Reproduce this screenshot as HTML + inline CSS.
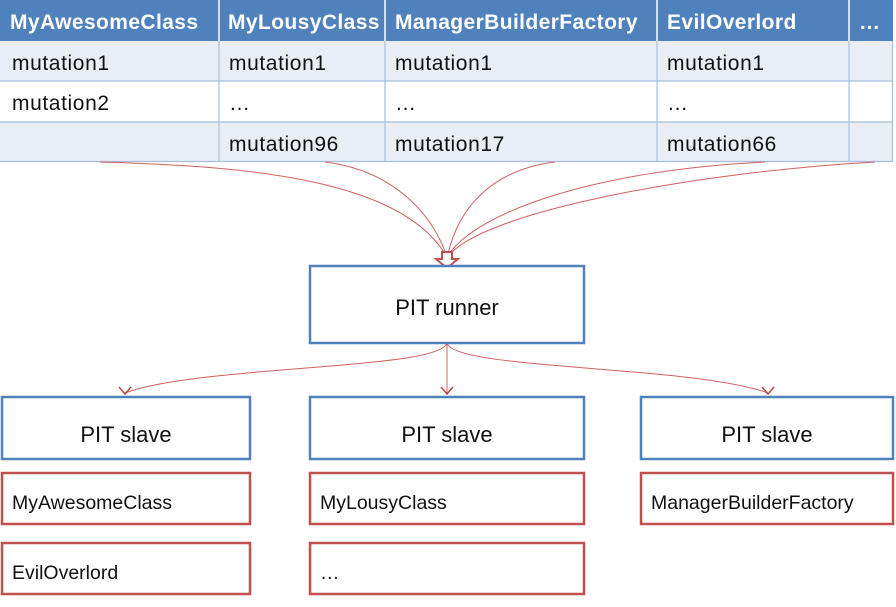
<!DOCTYPE html>
<html><head><style>
body{margin:0;background:#fff}
svg text{font-family:"Liberation Sans",sans-serif}
</style></head><body>
<svg width="896" height="602" viewBox="0 0 896 602" xmlns="http://www.w3.org/2000/svg">
<rect x="0" y="0" width="893" height="41" fill="#4f81bd"/>
<rect x="0" y="41" width="893" height="40" fill="#e9edf4"/>
<rect x="0" y="81" width="893" height="41" fill="#fff"/>
<rect x="0" y="122" width="893" height="40" fill="#e9edf4"/>
<g stroke="#fff" stroke-width="1.5">
<line x1="219" y1="0" x2="219" y2="41"/><line x1="385" y1="0" x2="385" y2="41"/><line x1="657" y1="0" x2="657" y2="41"/><line x1="849" y1="0" x2="849" y2="41"/>
</g>
<g stroke="#a7bfde" stroke-width="1.2" fill="none">
<line x1="219" y1="41" x2="219" y2="162"/><line x1="385" y1="41" x2="385" y2="162"/><line x1="657" y1="41" x2="657" y2="162"/><line x1="849" y1="41" x2="849" y2="162"/>
<line x1="0" y1="81" x2="893" y2="81"/><line x1="0" y1="122" x2="893" y2="122"/><line x1="0" y1="161.5" x2="893" y2="161.5"/>
<line x1="892.5" y1="41" x2="892.5" y2="162"/>
</g>
<g fill="#fff" font-weight="bold" font-size="21" letter-spacing="0.4">
<text x="10" y="29">MyAwesomeClass</text><text x="228" y="29">MyLousyClass</text><text x="395" y="29">ManagerBuilderFactory</text><text x="667" y="29">EvilOverlord</text><text x="859" y="29">…</text>
</g>
<g fill="#111" font-size="21" letter-spacing="0.6">
<text x="12" y="70">mutation1</text><text x="229" y="70">mutation1</text><text x="395" y="70">mutation1</text><text x="667" y="70">mutation1</text>
<text x="12" y="110">mutation2</text><text x="229" y="110">…</text><text x="395" y="110">…</text><text x="667" y="110">…</text>
<text x="229" y="151">mutation96</text><text x="395" y="151">mutation17</text><text x="667" y="151">mutation66</text>
</g>
<g stroke="#d06060" stroke-width="1" fill="none">
<path d="M100,162 C250,166 400,180 445,254"/>
<path d="M325,162 C390,170 430,210 446,254"/>
<path d="M555,162 C490,170 458,210 448,254"/>
<path d="M765,162 C600,170 480,210 449,254"/>
<path d="M875,162 C700,172 490,210 450,254"/>
<path d="M447,343 C440,370 200,365 125,393"/>
<path d="M447,343 L447,393"/>
<path d="M447,343 C454,370 690,365 768,393"/>
<path d="M119,387 L125,394 L131,387 M441,387 L447,394 L453,387 M762,387 L768,394 L774,387" stroke-width="1.5" stroke="#c04040"/>
</g>
<path d="M442,252 L452,252 L452,259 L458,259 L447,268 L436,259 L442,259 Z" fill="#fff" stroke="#c0504d" stroke-width="2"/>
<g fill="#fff" stroke="#4f81bd" stroke-width="2.5">
<rect x="310" y="266" width="274" height="77"/>
<rect x="2" y="397" width="248" height="62"/>
<rect x="310" y="397" width="274" height="62"/>
<rect x="641" y="397" width="252" height="62"/>
</g>
<g fill="#fff" stroke="#c0504d" stroke-width="2.5">
<rect x="2" y="473" width="248" height="51"/>
<rect x="310" y="473" width="274" height="51"/>
<rect x="641" y="473" width="252" height="51"/>
<rect x="2" y="543" width="248" height="51"/>
<rect x="310" y="543" width="274" height="51"/>
</g>
<g fill="#111" font-size="22" text-anchor="middle">
<text x="447" y="315">PIT runner</text>
<text x="126" y="442">PIT slave</text>
<text x="447" y="442">PIT slave</text>
<text x="767" y="442">PIT slave</text>
</g>
<g fill="#111" font-size="19.5">
<text x="12" y="509">MyAwesomeClass</text>
<text x="320" y="509">MyLousyClass</text>
<text x="651" y="509">ManagerBuilderFactory</text>
<text x="12" y="579">EvilOverlord</text>
<text x="320" y="579">…</text>
</g>
</svg>
</body></html>
